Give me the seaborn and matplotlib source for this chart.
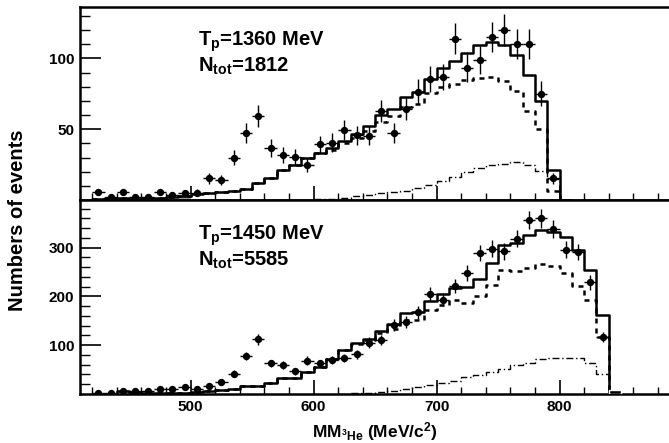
import numpy as np
import pandas as pd
import matplotlib
matplotlib.use("Agg")
import matplotlib.pyplot as plt
import seaborn as sns

# ---------------- data ----------------
# upper panel: T_p = 1360 MeV, bins of 10 MeV (left edges)
top_bins = list(range(420, 810, 10))
top_total = [1, 1.5, 1.5, 1, 1.5, 1.5, 2, 3, 4.5, 5, 6, 6.6, 8, 12.3, 15.8, 21, 25, 29.7,
             33.5, 36.6, 41.7, 46.5, 52.4, 60, 64.6, 72.4, 76, 85.4, 93.2, 98.3, 104, 109.4,
             111.3, 109.4, 102.6, 88, 70, 21.2, 0]
top_dashed = [1, 1.5, 1.5, 1, 1.5, 1.5, 2, 3, 4.5, 5, 6, 6.6, 8, 12.3, 15.8, 21, 25, 29.7,
              33, 35.6, 40.2, 44, 49, 55, 59, 66, 67.5, 75.5, 79.5, 82, 84.5, 86.5,
              86.6, 84, 77, 63, 50, 6.4, 0]
top_dd_bins = list(range(600, 810, 10))
top_dashdot = [0.5, 1, 1.5, 2.5, 3.5, 5, 5.6, 6.5, 8.5, 10.5, 13.5, 16, 19.5, 22.5,
               24.5, 25.5, 26.5, 25, 20.5, 15, 0]
top_x = list(range(425, 800, 10))
top_y = [5.7, 2.4, 5.7, 2.4, 2, 5.7, 3.5, 4.7, 5.2, 15.3, 14.2, 30, 47.2, 59.4, 36.8, 32,
         30.2, 24.5, 39.2, 40.6, 49.5, 45.8, 45.3, 63, 47.2, 64.6, 76.4, 85.4, 87, 114,
         93.2, 99, 114.9, 120, 110, 110, 75, 15.3]
top_err = [2.4, 1.5, 2.4, 1.5, 1.4, 2.4, 1.9, 2.2, 2.3, 3.9, 3.8, 5.5, 6.9, 7.7, 6.1, 5.7,
           5.5, 4.9, 6.3, 6.4, 7.0, 6.8, 6.7, 7.9, 6.9, 8.0, 8.7, 9.2, 9.3, 10.7,
           9.7, 9.9, 10.7, 11, 10.5, 10.5, 8.7, 3.9]
top_gray_x = [495]
top_gray_h = [4]

# lower panel: T_p = 1450 MeV
bot_bins = list(range(420, 850, 10))
bot_total = [1, 1, 6, 5, 3, 2, 2, 3, 5, 6, 9, 11, 16.6, 16.6, 22.8, 33.8, 33.8, 45.3,
             54.3, 72.7, 91, 104.7, 113.7, 129.3, 143, 165, 168, 191, 204, 218, 220, 236,
             269, 306, 309, 325, 337, 332, 322, 295, 254, 161, 0]
bot_dashed = [1, 1, 6, 5, 3, 2, 2, 3, 5, 6, 9, 11, 16.6, 16.6, 22.8, 33.8, 33.8, 45.3,
              54.3, 72.7, 90, 102.5, 111, 124, 134, 152, 151, 172, 182, 192, 187, 200,
              224, 254, 251, 259, 267, 262, 248, 221, 192, 117, 0]
bot_dd_bins = list(range(620, 850, 10))
bot_dashdot = [1, 2, 3, 4, 7, 10, 15, 19, 23, 26, 34, 39, 46, 52, 60, 64, 71, 73, 74, 74,
               64, 41, 0]
bot_x = list(range(425, 840, 10))
bot_y = [2.3, 2.3, 6.4, 6.4, 6, 10.5, 10.5, 14.6, 11, 17.4, 24, 42, 78, 111.7, 62.5, 59,
         46.7, 68.6, 62.5, 70, 74, 81.6, 105.5, 110, 141, 148, 167, 204.5, 193.6, 221.5,
         248, 289, 298, 292.6, 318.6, 357, 359.6, 339, 296, 291, 228.5, 117]
bot_err = [1.5, 1.5, 2.5, 2.5, 2.4, 3.2, 3.2, 3.8, 3.3, 4.2, 4.9, 6.5, 8.8, 10.6, 7.9, 7.7,
           6.8, 8.3, 7.9, 8.4, 8.6, 9.0, 10.3, 10.5, 11.9, 12.2, 12.9, 14.3, 13.9, 14.9,
           15.7, 17.0, 17.3, 17.1, 17.8, 18.9, 19.0, 18.4, 17.2, 17.1, 15.1, 10.8]
bot_black_x = [845]
bot_black_h = [8]

labels_top = ["T$_\\mathrm{p}$=1360 MeV", "N$_\\mathrm{tot}$=1812"]
labels_bot = ["T$_\\mathrm{p}$=1450 MeV", "N$_\\mathrm{tot}$=5585"]

# ---------------- style ----------------
sns.set_theme(style="ticks")
plt.rcParams["font.family"] = ["Liberation Sans", "DejaVu Sans"]
plt.rcParams["font.weight"] = "bold"
plt.rcParams["mathtext.fontset"] = "custom"
plt.rcParams["mathtext.rm"] = "Liberation Sans:bold"
plt.rcParams["mathtext.bf"] = "Liberation Sans:bold"
plt.rcParams["mathtext.it"] = "Liberation Sans:bold"
plt.rcParams["mathtext.default"] = "rm"
for key in ["text.color", "axes.labelcolor", "xtick.color", "ytick.color",
            "axes.edgecolor"]:
    plt.rcParams[key] = "black"

W, H = 669, 443
fig = plt.figure(figsize=(W / 100, H / 100), dpi=100)
left = 80 / W
ax1 = fig.add_axes([left, 1 - 200 / H, 1 - left, (200 - 6.7) / H])
ax2 = fig.add_axes([left, 1 - 394 / H, 1 - left, (394 - 200) / H])

XLIM = (410, 889)


def draw_hist(ax, lefts, vals, **kw):
    df = pd.DataFrame({"x": np.array(lefts) + 5, "w": vals})
    edges = list(lefts) + [lefts[-1] + 10]
    sns.histplot(data=df, x="x", weights="w", bins=edges, element="step", fill=False,
                 ax=ax, color="black", **kw)


def panel(ax, lefts, total, dashed, ddl, dd, px, py, pe, ylim, majors, minor):
    draw_hist(ax, ddl, dd, lw=1.0, linestyle=(0, (5, 2, 1, 2)))
    draw_hist(ax, lefts, dashed, lw=1.8, linestyle=(0, (2, 2)))
    draw_hist(ax, lefts, total, lw=1.8)
    ax.errorbar(px, py, yerr=pe, xerr=5, fmt="none", ecolor="black", elinewidth=1.0,
                capsize=0, zorder=4)
    sns.scatterplot(x=px, y=py, ax=ax, color="black", s=28, edgecolor="black",
                    linewidth=0, zorder=5)
    ax.set_xlim(*XLIM)
    ax.set_ylim(*ylim)
    ax.set_yticks(majors)
    ax.set_yticks(np.arange(minor, ylim[1], minor), minor=True)
    ax.set_xticks([500, 600, 700, 800])
    ax.set_xticks(np.arange(420, 889, 20), minor=True)
    ax.tick_params(axis="both", which="major", direction="in", length=10, width=1.2,
                   labelsize=11, pad=4, colors="black")
    ax.tick_params(axis="both", which="minor", direction="in", length=5, width=1.0,
                   colors="black")
    ax.tick_params(axis="y", which="major", length=15)
    ax.tick_params(axis="y", which="minor", length=7)
    ax.set_xlabel("")
    ax.set_ylabel("")
    for s in ["left", "top", "bottom"]:
        ax.spines[s].set_linewidth(1.8)
        ax.spines[s].set_color("black")
    ax.spines["right"].set_visible(False)
    for lab in ax.get_xticklabels() + ax.get_yticklabels():
        lab.set_fontweight("bold")
        lab.set_color("black")


panel(ax1, top_bins, top_total, top_dashed, top_dd_bins, top_dashdot, top_x, top_y,
      top_err, (0, 136.5), [50, 100], 10)
ax1.bar(top_gray_x, top_gray_h, width=10, color="#999999", zorder=1)
ax1.tick_params(axis="x", labelbottom=False)

panel(ax2, bot_bins, bot_total, bot_dashed, bot_dd_bins, bot_dashdot, bot_x, bot_y,
      bot_err, (0, 397.5), [100, 200, 300], 20)
ax2.bar(bot_black_x, bot_black_h, width=10, color="black", zorder=3)


def ftext(xp, yp, lines):
    # two-line label, top-aligned at pixel yp
    fig.text(xp / W, 1 - yp / H, "\n".join(lines), fontsize=14.5, fontweight="bold",
             va="top", ha="left", color="black", linespacing=1.05)


ftext(198, 30, labels_top)
ftext(198, 224, labels_bot)

fig.text(374.5 / W, 1 - 432 / H, "MM$_{^{3}\\mathrm{He}}$ (MeV/c$^{2}$)", fontsize=12.5,
         fontweight="bold", ha="center", va="center", color="black")
fig.text(18 / W, 1 - 220 / H, "Numbers of events", fontsize=14.5, fontweight="bold",
         rotation=90, ha="center", va="center", color="black")

fig.savefig("out.png", dpi=100)
